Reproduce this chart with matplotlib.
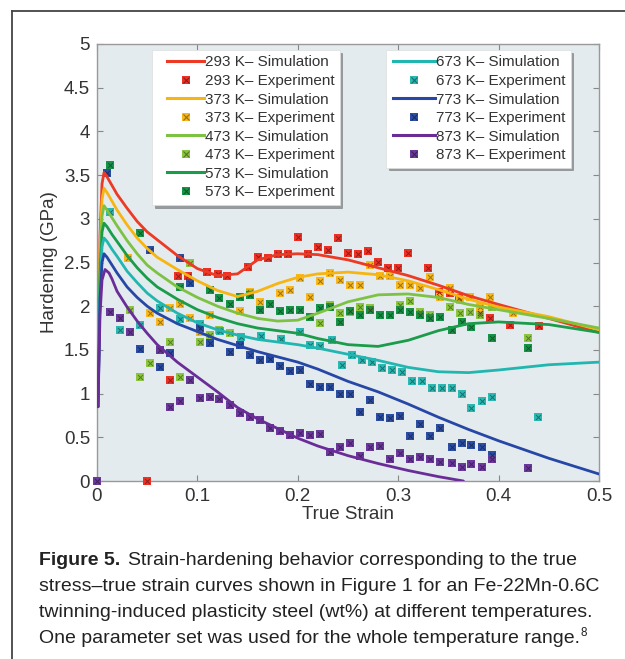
import numpy as np
import matplotlib
matplotlib.use("Agg")
import matplotlib.pyplot as plt
from matplotlib.lines import Line2D
from matplotlib.legend_handler import HandlerTuple, HandlerLine2D

plt.rcParams['font.family'] = ['Liberation Sans', 'DejaVu Sans']

temps = ["293", "373", "473", "573", "673", "773", "873"]
line_colors = ["#ec3a24", "#f7b512", "#7dc242", "#1a9c4a", "#22b6b0", "#2747a6", "#6a2d98"]
mark_colors = ["#ee3124", "#f8b81c", "#8cc63f", "#159447", "#2ab8b2", "#2b4da3", "#6b389b"]

# ---- simulation curves ----
sim_strain = [0.001, 0.003, 0.005, 0.007, 0.010, 0.015, 0.02, 0.03, 0.04, 0.05, 0.06, 0.08,
              0.10, 0.12, 0.14, 0.16, 0.18, 0.20, 0.22, 0.25, 0.28, 0.31, 0.34, 0.37,
              0.40, 0.45, 0.50]
sim_293 = [0.85, 2.80, 3.40, 3.53, 3.48, 3.38, 3.28, 3.12, 2.97, 2.85, 2.76, 2.58,
           2.43, 2.35, 2.37, 2.53, 2.59, 2.60, 2.59, 2.53, 2.44, 2.35, 2.24, 2.12,
           2.02, 1.86, 1.70]
sim_373 = [0.85, 2.65, 3.22, 3.35, 3.30, 3.20, 3.10, 2.93, 2.78, 2.66, 2.56, 2.42,
           2.29, 2.18, 2.11, 2.17, 2.26, 2.33, 2.37, 2.39, 2.36, 2.29, 2.19, 2.08,
           1.99, 1.88, 1.73]
sim_473 = [0.85, 2.50, 3.03, 3.15, 3.10, 3.01, 2.92, 2.75, 2.60, 2.47, 2.38, 2.22,
           2.10, 2.00, 1.92, 1.86, 1.83, 1.84, 1.92, 2.05, 2.13, 2.14, 2.10, 2.02,
           1.96, 1.86, 1.75]
sim_573 = [0.85, 2.35, 2.85, 2.95, 2.91, 2.82, 2.74, 2.58, 2.44, 2.32, 2.22, 2.08,
           1.96, 1.87, 1.80, 1.75, 1.72, 1.69, 1.63, 1.56, 1.54, 1.61, 1.72, 1.80,
           1.82, 1.79, 1.70]
sim_673 = [0.85, 2.22, 2.68, 2.78, 2.74, 2.65, 2.57, 2.40, 2.27, 2.15, 2.06, 1.92,
           1.81, 1.73, 1.67, 1.62, 1.59, 1.56, 1.52, 1.45, 1.38, 1.30, 1.25, 1.24,
           1.27, 1.33, 1.36]
sim_773 = [0.85, 2.08, 2.50, 2.60, 2.56, 2.47, 2.38, 2.22, 2.10, 2.00, 1.92, 1.80,
           1.71, 1.62, 1.55, 1.48, 1.42, 1.36, 1.28, 1.14, 1.02, 0.88, 0.73, 0.59,
           0.46, 0.26, 0.08]
sim_873_strain = [0.001, 0.003, 0.005, 0.008, 0.012, 0.015, 0.02, 0.03, 0.04, 0.05, 0.06,
                  0.08, 0.10, 0.12, 0.14, 0.16, 0.18, 0.20, 0.22, 0.25, 0.28, 0.31,
                  0.34, 0.365]
sim_873 = [0.85, 1.90, 2.30, 2.42, 2.38, 2.31, 2.17, 1.99, 1.83, 1.69, 1.56,
           1.36, 1.19, 1.02, 0.84, 0.71, 0.60, 0.49, 0.40, 0.29, 0.20, 0.12,
           0.05, 0.0]

# ---- experiments ----
exp_293_x = [0.05, 0.073, 0.081, 0.091, 0.110, 0.121, 0.129, 0.150, 0.160, 0.170, 0.180, 0.190,
             0.200, 0.210, 0.220, 0.230, 0.240, 0.250, 0.260, 0.270, 0.280, 0.290, 0.300,
             0.310, 0.330, 0.341, 0.352, 0.361, 0.381, 0.391, 0.411, 0.440]
exp_293_y = [0.0, 1.15, 2.35, 2.35, 2.39, 2.37, 2.35, 2.45, 2.56, 2.55, 2.60, 2.60,
             2.79, 2.60, 2.68, 2.64, 2.78, 2.61, 2.60, 2.63, 2.51, 2.44, 2.44,
             2.61, 2.44, 2.16, 2.15, 2.09, 1.92, 1.87, 1.78, 1.77]
exp_373_x = [0.031, 0.053, 0.063, 0.073, 0.083, 0.093, 0.103, 0.113, 0.142, 0.152, 0.162,
             0.182, 0.192, 0.202, 0.212, 0.222, 0.232, 0.242, 0.252, 0.262, 0.272, 0.282,
             0.292, 0.302, 0.312, 0.322, 0.332, 0.342, 0.352, 0.362, 0.372, 0.381, 0.391, 0.414]
exp_373_y = [2.55, 1.92, 1.82, 1.98, 2.03, 1.87, 1.71, 1.90, 1.94, 2.16, 2.05,
             2.15, 2.19, 2.32, 2.11, 2.29, 2.38, 2.30, 2.24, 2.24, 2.47, 2.35,
             2.34, 2.24, 2.24, 2.21, 2.33, 2.10, 2.21, 2.07, 2.10, 1.99, 2.10, 1.92]
exp_473_x = [0.033, 0.043, 0.053, 0.073, 0.083, 0.093, 0.103, 0.113, 0.122, 0.132, 0.152,
             0.212, 0.222, 0.232, 0.242, 0.252, 0.262, 0.272, 0.302, 0.312, 0.322, 0.332,
             0.352, 0.362, 0.372, 0.381, 0.393, 0.429]
exp_473_y = [1.96, 1.19, 1.35, 1.59, 1.19, 2.49, 1.59, 1.67, 1.73, 1.69, 2.15,
             1.88, 1.81, 2.01, 1.92, 1.93, 1.99, 1.98, 2.01, 2.06, 1.93, 1.90,
             1.99, 1.92, 1.93, 1.90, 1.99, 1.64]
exp_573_x = [0.013, 0.043, 0.083, 0.113, 0.122, 0.132, 0.142, 0.152, 0.162, 0.172, 0.182,
             0.192, 0.202, 0.212, 0.222, 0.232, 0.242, 0.252, 0.262, 0.272, 0.282, 0.292,
             0.302, 0.312, 0.322, 0.332, 0.342, 0.354, 0.364, 0.373, 0.393, 0.429]
exp_573_y = [3.62, 2.84, 2.22, 2.19, 2.09, 2.03, 2.11, 2.13, 1.96, 2.03, 1.94,
             1.96, 1.96, 1.88, 1.98, 1.99, 1.82, 1.94, 1.90, 1.96, 1.90, 1.90,
             1.96, 1.93, 1.90, 1.87, 1.88, 1.73, 1.82, 1.76, 1.64, 1.52]
exp_673_x = [0.013, 0.023, 0.043, 0.063, 0.083, 0.103, 0.123, 0.143, 0.163, 0.183, 0.202,
             0.212, 0.222, 0.234, 0.244, 0.254, 0.264, 0.274, 0.284, 0.294, 0.304, 0.314,
             0.324, 0.334, 0.344, 0.354, 0.364, 0.373, 0.383, 0.393, 0.439]
exp_673_y = [3.08, 1.73, 1.78, 1.98, 1.85, 1.80, 1.72, 1.65, 1.66, 1.62, 1.71,
             1.56, 1.55, 1.61, 1.33, 1.44, 1.38, 1.36, 1.29, 1.27, 1.25, 1.14,
             1.14, 1.06, 1.06, 1.06, 1.00, 0.84, 0.91, 0.96, 0.73]
exp_773_x = [0.010, 0.043, 0.053, 0.063, 0.073, 0.083, 0.093, 0.103, 0.113, 0.132, 0.142,
             0.152, 0.162, 0.172, 0.182, 0.192, 0.202, 0.212, 0.222, 0.232, 0.242, 0.252,
             0.262, 0.272, 0.282, 0.292, 0.302, 0.312, 0.322, 0.332, 0.342, 0.354, 0.364,
             0.373, 0.383, 0.393]
exp_773_y = [3.52, 1.51, 2.64, 1.31, 1.46, 2.55, 2.26, 1.75, 1.58, 1.48, 1.56,
             1.44, 1.38, 1.40, 1.32, 1.26, 1.27, 1.11, 1.08, 1.08, 1.00, 1.00,
             0.79, 0.93, 0.73, 0.72, 0.74, 0.51, 0.65, 0.51, 0.61, 0.39, 0.43,
             0.41, 0.39, 0.30]
exp_873_x = [0.0, 0.013, 0.023, 0.033, 0.063, 0.073, 0.083, 0.093, 0.103, 0.113, 0.122,
             0.132, 0.142, 0.152, 0.162, 0.172, 0.182, 0.192, 0.202, 0.212, 0.222, 0.232,
             0.242, 0.252, 0.262, 0.272, 0.282, 0.292, 0.302, 0.312, 0.322, 0.332, 0.342,
             0.354, 0.364, 0.373, 0.383, 0.393, 0.429]
exp_873_y = [0.0, 1.93, 1.86, 1.70, 1.50, 0.85, 0.92, 1.16, 0.95, 0.96, 0.94,
             0.87, 0.78, 0.73, 0.70, 0.61, 0.57, 0.53, 0.55, 0.53, 0.54, 0.33,
             0.39, 0.43, 0.29, 0.39, 0.40, 0.25, 0.32, 0.25, 0.27, 0.25, 0.22,
             0.21, 0.16, 0.20, 0.16, 0.25, 0.15]

sims = [(sim_strain, sim_293), (sim_strain, sim_373), (sim_strain, sim_473), (sim_strain, sim_573),
        (sim_strain, sim_673), (sim_strain, sim_773), (sim_873_strain, sim_873)]
exps = [(exp_293_x, exp_293_y), (exp_373_x, exp_373_y), (exp_473_x, exp_473_y),
        (exp_573_x, exp_573_y), (exp_673_x, exp_673_y), (exp_773_x, exp_773_y),
        (exp_873_x, exp_873_y)]

x_ticks = [0, 0.1, 0.2, 0.3, 0.4, 0.5]
x_ticklabels = ["0", "0.1", "0.2", "0.3", "0.4", "0.5"]
y_ticks = [0, 0.5, 1, 1.5, 2, 2.5, 3, 3.5, 4, 4.5, 5]
y_ticklabels = ["0", "0.5", "1", "1.5", "2", "2.5", "3", "3.5", "4", "4.5", "5"]

caption_bold = "Figure 5."
caption_lines = ["Strain-hardening behavior corresponding to the true",
                 "stress\u2013true strain curves shown in Figure 1 for an Fe-22Mn-0.6C",
                 "twinning-induced plasticity steel (wt%) at different temperatures.",
                 "One parameter set was used for the whole temperature range."]
caption_ref = "8"


def darker(c, f=0.6):
    c = matplotlib.colors.to_rgb(c)
    return tuple(v * f for v in c)


W, H = 625, 659
fig = plt.figure(figsize=(W / 100, H / 100), dpi=100)
ax = fig.add_axes([97 / W, (H - 481) / H, 502 / W, 437 / H])
ax.set_facecolor("#e4ebee")

for (ex, ey), mc in zip(exps, mark_colors):
    ax.scatter(ex, ey, marker="s", s=30, color=mc, linewidths=0, zorder=3, clip_on=False)
    ax.scatter(ex, ey, marker="x", s=13, color=darker(mc), linewidths=0.7, zorder=3.1, clip_on=False)

for (sx, sy), lc in zip(sims, line_colors):
    ax.plot(sx, sy, color=lc, lw=2.0, zorder=4, solid_capstyle="round")

ax.set_xlim(0, 0.5)
ax.set_ylim(0, 5)
ax.set_xticks(x_ticks)
ax.set_xticklabels(x_ticklabels)
ax.set_yticks(y_ticks)
ax.set_yticklabels(y_ticklabels)
ax.tick_params(direction="in", length=4, color="#888888", labelsize=13.5, labelcolor="#333333",
               top=True, right=True, pad=5)
for sp in ax.spines.values():
    sp.set_color("#999999")
    sp.set_linewidth(1.0)
ax.set_xlabel("True Strain", fontsize=13.5, color="#333333", labelpad=1)
ax.set_ylabel("Hardening (GPa)", fontsize=13.5, color="#333333", labelpad=4)


def make_handles(idx):
    hs, ls = [], []
    for i in idx:
        hs.append(Line2D([], [], color=line_colors[i], lw=2.2))
        ls.append(f"{temps[i]} K\u2013 Simulation")
        sq = Line2D([], [], marker="s", ls="none", ms=6, color=mark_colors[i], mew=0)
        xx = Line2D([], [], marker="x", ls="none", ms=4, color=darker(mark_colors[i]), mew=0.8)
        hs.append((sq, xx))
        ls.append(f"{temps[i]} K\u2013 Experiment")
    return hs, ls


def add_legend(idx, left_px, xpad, hlen):
    hs, ls = make_handles(idx)
    hmap = {tuple: HandlerTuple(ndivide=1, pad=0, xpad=xpad),
            Line2D: HandlerLine2D(xpad=xpad)}
    leg = ax.legend(hs, ls, loc="upper left",
                    bbox_to_anchor=((left_px - 97) / 502, (481 - 50) / 437),
                    handler_map=hmap, fontsize=11, frameon=True, fancybox=False, shadow=True,
                    framealpha=1, edgecolor="#dddddd", handlelength=hlen, handletextpad=0.05,
                    labelspacing=0.3, borderpad=0.35, borderaxespad=0)
    leg.get_frame().set_linewidth(0.5)
    for t in leg.get_texts():
        t.set_color("#333333")
    return leg


leg1 = add_legend([0, 1, 2, 3], 152, 0.65, 3.05)
ax.add_artist(leg1)
leg2 = add_legend([4, 5, 6], 386, 0.12, 2.85)

# page frame lines
fig.add_artist(Line2D([12 / W, 12 / W], [0, 1 - 11 / H], transform=fig.transFigure,
                      color="#444444", lw=1.3))
fig.add_artist(Line2D([12 / W, 1], [1 - 11 / H, 1 - 11 / H], transform=fig.transFigure,
                      color="#444444", lw=1.3))

# caption
cap_x = 39 / W
cap_y = [565, 591, 617, 643]
fs = 14.0
tcol = "#222222"
t0 = fig.text(cap_x, 1 - cap_y[0] / H, caption_bold, fontsize=fs, fontweight="bold",
              color=tcol, va="baseline")
fig.canvas.draw()
bb = t0.get_window_extent()
fig.text(bb.x1 / W + 0.013, 1 - cap_y[0] / H, caption_lines[0], fontsize=fs, color=tcol,
         va="baseline")
last = None
for k in range(1, 4):
    last = fig.text(cap_x, 1 - cap_y[k] / H, caption_lines[k], fontsize=fs, color=tcol,
                    va="baseline")
fig.canvas.draw()
bb = last.get_window_extent()
fig.text(bb.x1 / W + 0.001, 1 - (cap_y[3] - 7) / H, caption_ref, fontsize=fs * 0.6, color=tcol,
         va="baseline")

fig.savefig("out.png", dpi=100)
